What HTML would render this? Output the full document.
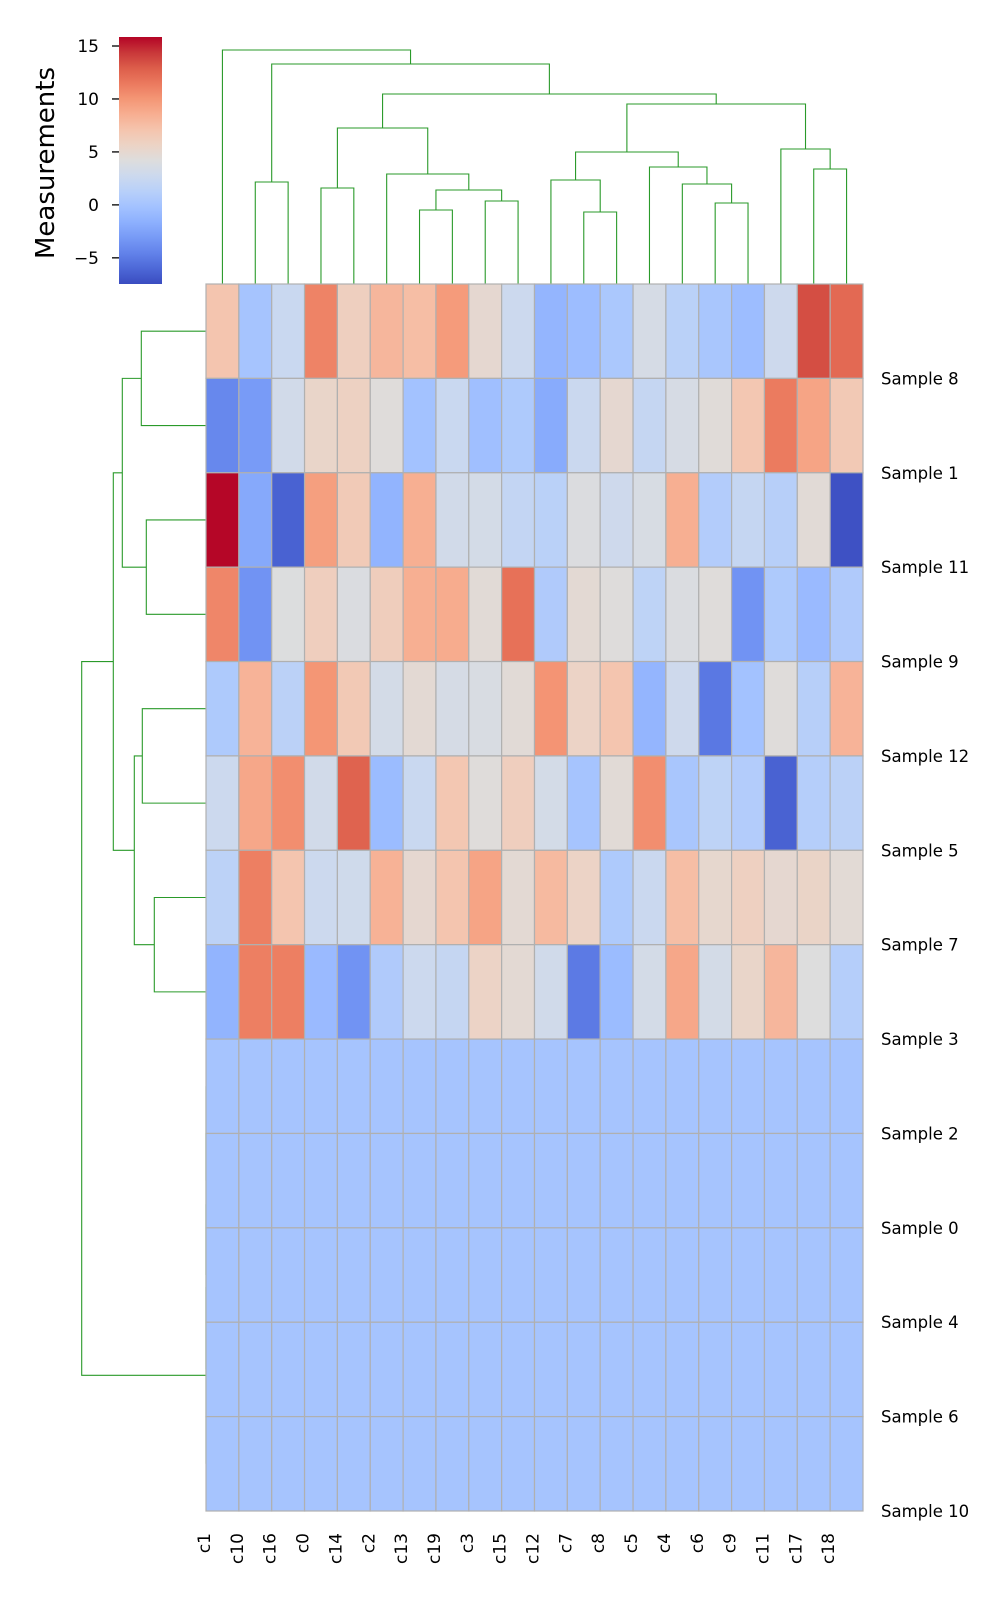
<!DOCTYPE html>
<html><head><meta charset="utf-8"><style>
html,body{margin:0;padding:0;background:#fff;}
svg{display:block;font-family:"DejaVu Sans","Liberation Sans",sans-serif;}
</style></head><body>
<svg id="chart" width="1000" height="1600" viewBox="0 0 1000 1600" xmlns="http://www.w3.org/2000/svg">
<defs><linearGradient id="cbgrad" x1="0" y1="1" x2="0" y2="0"></linearGradient></defs>
<g id="leftdendro"></g>
<g id="colorbar"></g>
<text transform="translate(54,163) rotate(-90)" text-anchor="middle" font-size="26" fill="#000">Measurements</text>
<g id="topdendro"></g>
<g id="heatmap"></g>
<g id="rowlabels"></g>
<g id="collabels"></g>
</svg>
<script>
const colLabels = ["c1","c10","c16","c0","c14","c2","c13","c19","c3","c15","c12","c7","c8","c5","c4","c6","c9","c11","c17","c18"];
const rowLabels = ["Sample 8","Sample 1","Sample 11","Sample 9","Sample 12","Sample 5","Sample 7","Sample 3","Sample 2","Sample 0","Sample 4","Sample 6","Sample 10"];
const row0 = [7,0,2.5,11,6,8,7.5,9.7,5,2.7,-1.2,-0.6,0.4,3.5,1.4,0.2,-0.6,2.8,13.5,12.3];
const row1 = [-4.2,-3,3.2,5.4,5.8,4.4,-0.2,2.5,-0.4,0.6,-2,2.6,5,2.2,3.6,4.5,6.8,11.4,9.2,6.6];
const row2 = [15.8,-2.1,-6.3,9.5,6.5,-1.3,8.5,3.2,3.3,2.1,1.4,4,2.9,3.7,8.5,0.9,2.2,1.2,4.6,-7.2];
const row3 = [10.8,-3.5,4.1,6.1,3.9,6.2,8.5,8.7,4.6,11.9,0.7,4.8,4.3,1.7,3.9,4.4,-3.5,0.6,-0.8,0.7];
const row4 = [0.6,8.2,1.5,10,6.6,3.3,4.8,3.5,3.8,4.6,10.1,5.6,7,-1.2,2.9,-5.1,-0.2,4.4,1.2,8.2];
const row5 = [2.7,9,10.4,3.2,12.6,-0.7,2.5,6.8,4.4,6.1,3.3,0,4.6,10.4,0.2,1.7,0.9,-6.3,1.1,1.5];
const row6 = [1.6,11.2,7,2.7,3,8.3,5,7,9.2,4.8,7.8,5.6,0.6,2.6,7.5,5.1,5.9,5,5.5,4.7];
const row7 = [-1.3,11.2,11.2,-0.8,-3.5,0.7,2.7,2.2,5.6,4.8,3.1,-5,-0.7,3.3,9,3.3,5.4,8,4.2,1.1];
const row8 = [0,0,0,0,0,0,0,0,0,0,0,0,0,0,0,0,0,0,0,0];
const row9 = [0,0,0,0,0,0,0,0,0,0,0,0,0,0,0,0,0,0,0,0];
const row10 = [0,0,0,0,0,0,0,0,0,0,0,0,0,0,0,0,0,0,0,0];
const row11 = [0,0,0,0,0,0,0,0,0,0,0,0,0,0,0,0,0,0,0,0];
const row12 = [0,0,0,0,0,0,0,0,0,0,0,0,0,0,0,0,0,0,0,0];
const values = [row0,row1,row2,row3,row4,row5,row6,row7,row8,row9,row10,row11,row12];
const cbTicks = [15,10,5,0,-5];
const vmin = -7.47, vmax = 15.85;
// column linkage (leaves 0..19 in display order, new nodes from 20)
const colMergeA = [1,3,6,8,22,5,21,11,10,15,14,13,28,18,17,32,26,20,0];
const colMergeB = [2,4,7,9,23,24,25,12,27,16,29,30,31,19,33,34,35,36,37];
const colMergeH = [102,96,74,83,94,110,156,72,104,81,100,117,132,115,135,180,190,220,234];
// row linkage (leaves 0..12, new nodes from 13)
const rowMergeA = [0,2,13,4,6,16,15,8,10,11,12,19];
const rowMergeB = [1,3,14,5,7,17,18,9,20,21,22,23];
const rowMergeH = [64.7,59.7,83.7,63.7,51.7,71.7,92.7,0,0,0,0,124.3];

const NS="http://www.w3.org/2000/svg";
const HX0=206, HX1=863, HY0=284, HY1=1511;
const cw=(HX1-HX0)/colLabels.length, rh=(HY1-HY0)/rowLabels.length;
const CB_X0=119, CB_X1=162, CB_Y0=37, CB_Y1=284;
const cm=[[58,76,192],[77,104,215],[98,130,234],[119,154,246],[141,176,254],[163,194,255],[184,208,249],[204,217,238],[221,221,221],[236,211,197],[245,196,173],[247,174,145],[244,150,117],[235,121,94],[220,93,74],[200,55,57],[180,4,38]];
function cmap(t){t=Math.max(0,Math.min(1,t));const p=t*(cm.length-1);const i=Math.min(cm.length-2,Math.floor(p));const f=p-i;
 const c=cm[i].map((v,k)=>Math.round(v+(cm[i+1][k]-v)*f));return `rgb(${c[0]},${c[1]},${c[2]})`;}
function colorOf(v){return cmap((v-vmin)/(vmax-vmin));}
function el(tag,attrs,parent){const e=document.createElementNS(NS,tag);for(const k in attrs)e.setAttribute(k,attrs[k]);parent.appendChild(e);return e;}
const xCol=i=>HX0+cw*(i+0.5);
const yRow=i=>HY0+rh*(i+0.5);
const yTop=h=>HY0-h;
const xLeft=h=>HX0-h;

// colorbar
const grad=document.getElementById('cbgrad');
for(let i=0;i<cm.length;i++){const s=document.createElementNS(NS,'stop');s.setAttribute('offset',(i/(cm.length-1)));s.setAttribute('stop-color',`rgb(${cm[i].join(',')})`);grad.appendChild(s);}
const yCb=v=>CB_Y1-(v-vmin)/(vmax-vmin)*(CB_Y1-CB_Y0);
const cbg=document.getElementById('colorbar');
const cbr=el('rect',{x:CB_X0,y:CB_Y0,width:CB_X1-CB_X0,height:CB_Y1-CB_Y0,fill:'url(#cbgrad)'},cbg);


cbTicks.forEach(v=>{const y=yCb(v);
 const tk=el('line',{x1:CB_X0-7,x2:CB_X0,y1:y,y2:y,stroke:'#000','stroke-width':1.3},cbg);
 
 
 const t=el('text',{x:CB_X0-20,y:y+6,'text-anchor':'end','font-size':17,fill:'#000'},cbg);
 t.textContent=(v<0?'\u2212'+Math.abs(v):String(v));
 
 
});

// dendrograms
function drawDendro(g,nLeaves,A,B,H,horizontal){
 const pos=[],ht=[];
 for(let i=0;i<nLeaves;i++){pos.push(i);ht.push(0);}
 for(let k=0;k<A.length;k++){
  const a=A[k],b=B[k],h=H[k];
  let d;
  if(!horizontal){
   const xa=xCol(pos[a]),xb=xCol(pos[b]);
   d=`M${xa},${yTop(ht[a])}V${yTop(h)}H${xb}V${yTop(ht[b])}`;
  } else {
   const ya=yRow(pos[a]),yb=yRow(pos[b]);
   d=`M${xLeft(ht[a])},${ya}H${xLeft(h)}V${yb}H${xLeft(ht[b])}`;
  }
  const p=el('path',{d:d,fill:'none',stroke:'#2a9a2a','stroke-width':1.1},g);
  
  
  pos.push((pos[a]+pos[b])/2);ht.push(h);
 }
}
drawDendro(document.getElementById('topdendro'),colLabels.length,colMergeA,colMergeB,colMergeH,false);
drawDendro(document.getElementById('leftdendro'),rowLabels.length,rowMergeA,rowMergeB,rowMergeH,true);

// heatmap
const hm=document.getElementById('heatmap');
values.forEach((row,r)=>row.forEach((v,c)=>{
 const rc=el('rect',{x:HX0+c*cw,y:HY0+r*rh,width:cw,height:rh,fill:colorOf(v),stroke:'#b0b0b0','stroke-width':1.2},hm);
 
 
}));

// row labels
const rl=document.getElementById('rowlabels');
rowLabels.forEach((s,i)=>{const t=el('text',{x:881,y:HY0+rh*(i+1)+6,'font-size':16.5,fill:'#000'},rl);t.textContent=s;
 
 });
// col labels
const cl=document.getElementById('collabels');
colLabels.forEach((s,i)=>{const x=HX0+i*cw+4;const t=el('text',{transform:`translate(${x},1533) rotate(-90)`,'text-anchor':'end','font-size':17,fill:'#000'},cl);t.textContent=s;
 
 });
</script>
</body></html>
